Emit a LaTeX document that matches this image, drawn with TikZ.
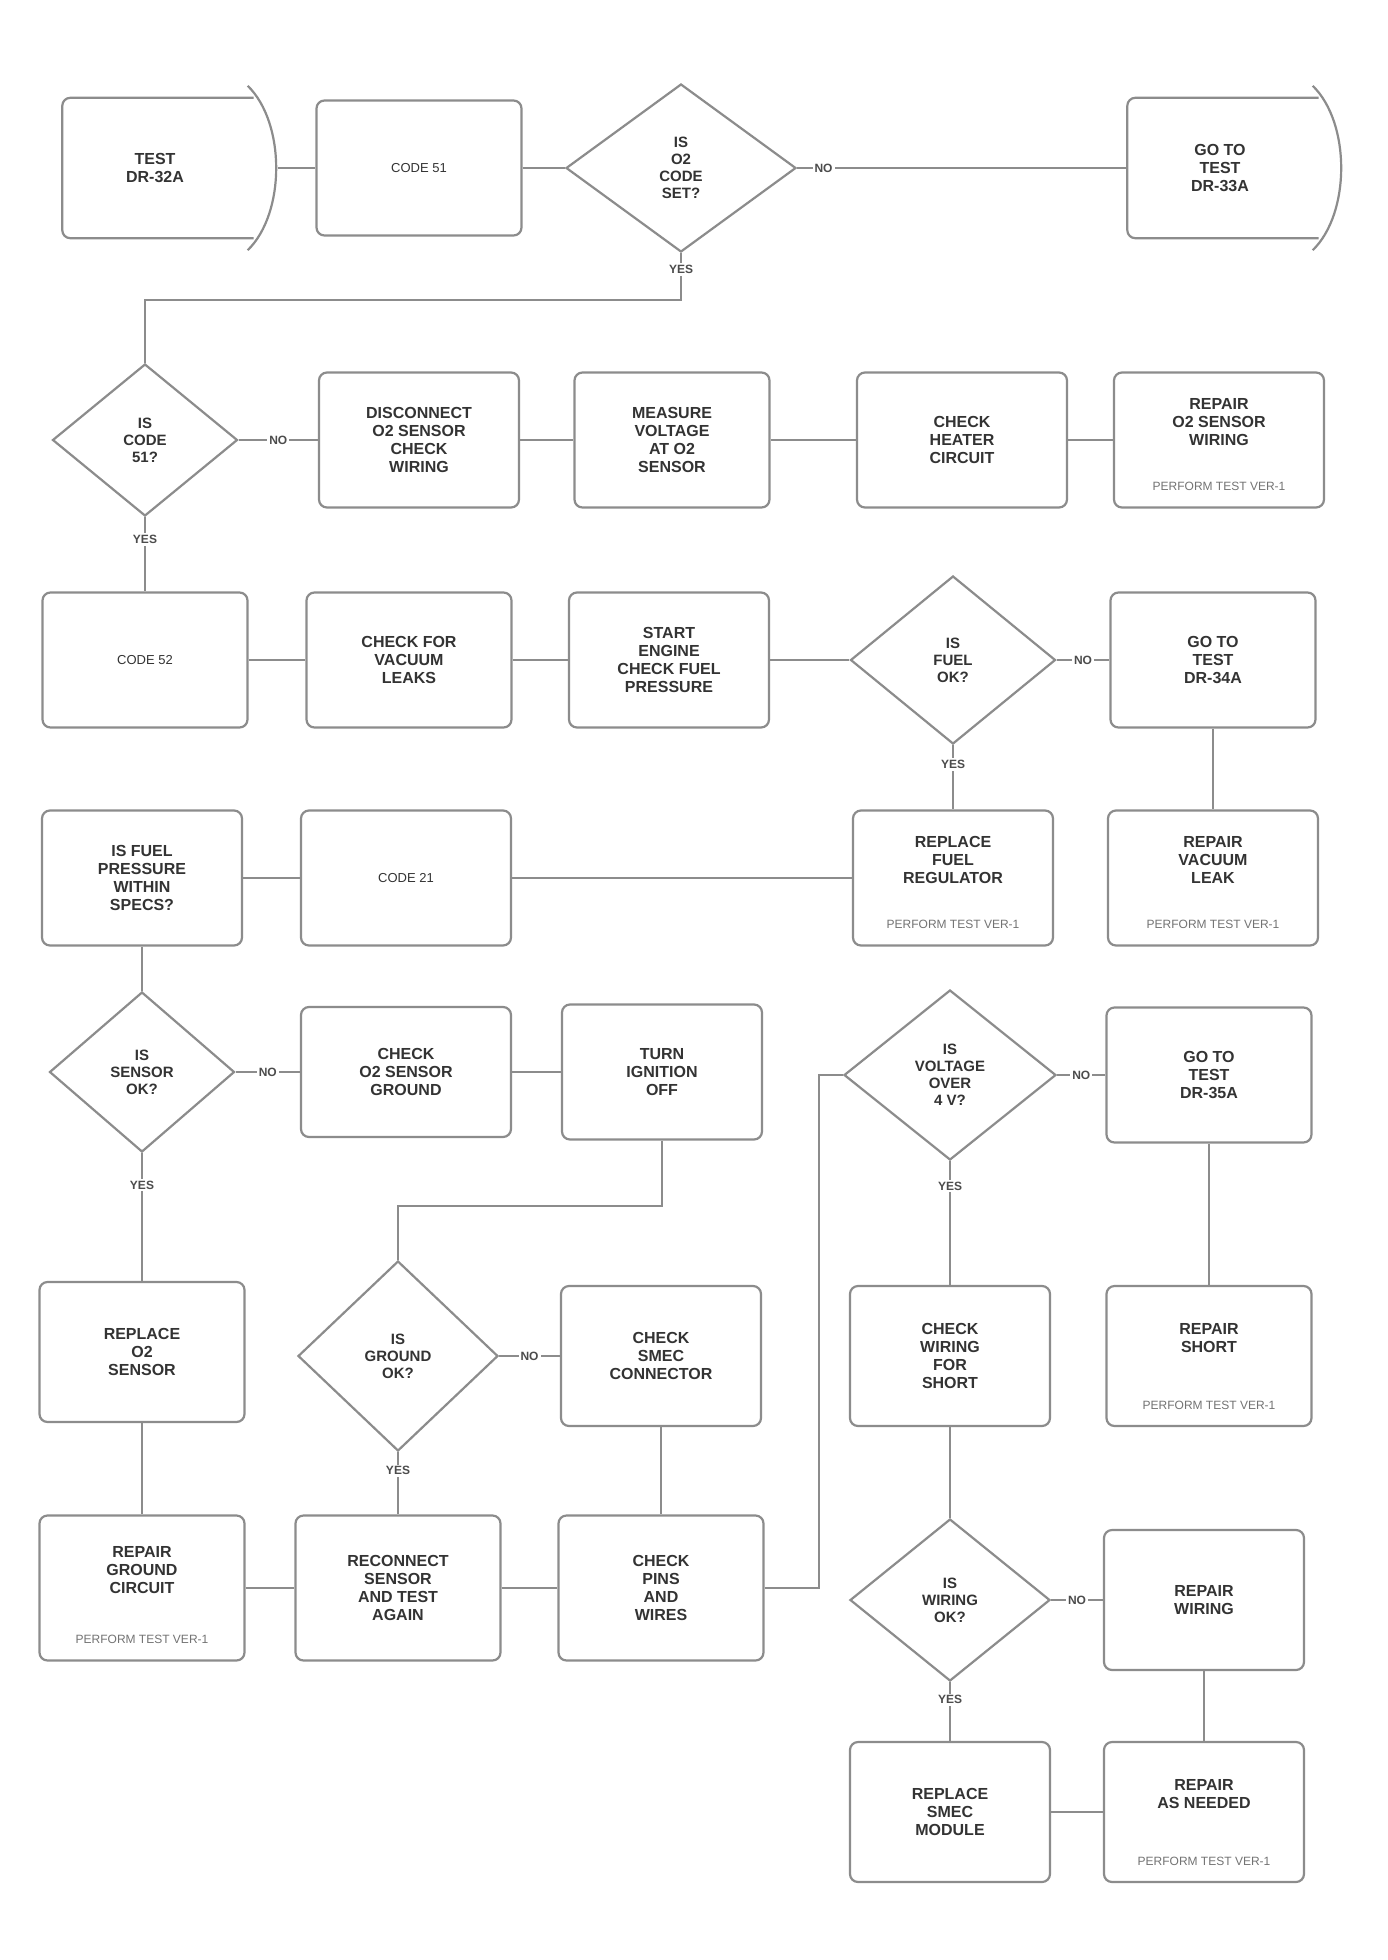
\documentclass[tikz,border=0pt]{standalone}
\usepackage{fontspec}
\setmainfont{Liberation Sans}
\usetikzlibrary{shapes.geometric,calc}
\begin{document}
\begin{tikzpicture}[x=1pt,y=-1pt,
  every node/.style={text=black!80},
  box/.style={draw=black!45, line width=2.2, rounded corners=8, minimum width=200, minimum height=135,
    align=center, font=\bfseries\fontsize{16}{18}\selectfont, inner sep=4},
  dia/.style={draw=black!45, line width=2.2, shape=diamond, inner sep=0, align=center,
    font=\bfseries\fontsize{15}{17}\selectfont},
  term/.style={minimum width=185, minimum height=140, align=center, font=\bfseries\fontsize{16}{18}\selectfont},
  thin/.style={font=\fontsize{13}{15}\selectfont},
  line/.style={draw=black!45, line width=2.2},
  lbl/.style={font=\bfseries\fontsize{12}{14}\selectfont, inner sep=2, fill=white, text=black!70},
  sub/.style={font=\fontsize{12}{14}\selectfont, text=black!55, anchor=south},
]
\fill[white] (0,0) rectangle (1387,1960);
\useasboundingbox (0,0) rectangle (1387,1960);

% ---------- row 1
\node[term] (A) at (155,168) {TEST\\DR-32A};
\draw[line, rounded corners=8] ($(A.north east)+(6,0)$) -- (A.north west) -- (A.south west) -- ($(A.south east)+(6,0)$);
\draw[line] ($(A.north east)+(0,-12)$) .. controls ($(A.north east)+(38,25)$) and ($(A.south east)+(38,-25)$) .. ($(A.south east)+(0,12)$);
\node[box, thin, minimum width=205] (B) at (419,168) {CODE 51};
\node[dia, minimum width=230, minimum height=168] (C) at (681,168) {IS\\O2\\CODE\\SET?};
\node[term] (D) at (1220,168) {GO TO\\TEST\\DR-33A};
\draw[line, rounded corners=8] ($(D.north east)+(6,0)$) -- (D.north west) -- (D.south west) -- ($(D.south east)+(6,0)$);
\draw[line] ($(D.north east)+(0,-12)$) .. controls ($(D.north east)+(38,25)$) and ($(D.south east)+(38,-25)$) .. ($(D.south east)+(0,12)$);

% ---------- row 2
\node[dia, minimum width=185, minimum height=152] (E) at (145,440) {IS\\CODE\\51?};
\node[box] (F) at (419,440) {DISCONNECT\\O2 SENSOR\\CHECK\\WIRING};
\node[box, minimum width=195] (G) at (672,440) {MEASURE\\VOLTAGE\\AT O2\\SENSOR};
\node[box, minimum width=210] (H) at (962,440) {CHECK\\HEATER\\CIRCUIT};
\node[box, minimum width=210] (I) at (1219,440) {REPAIR\\O2 SENSOR\\WIRING\\[18pt]};
\node[sub] at ($(I.south)+(0,-14)$) {PERFORM TEST VER-1};

% ---------- row 3
\node[box, thin, minimum width=205] (J) at (145,660) {CODE 52};
\node[box, minimum width=205] (K) at (409,660) {CHECK FOR\\VACUUM\\LEAKS};
\node[box] (L) at (669,660) {START\\ENGINE\\CHECK FUEL\\PRESSURE};
\node[dia, minimum width=205, minimum height=168] (M) at (953,660) {IS\\FUEL\\OK?};
\node[box, minimum width=205] (N) at (1213,660) {GO TO\\TEST\\DR-34A};

% ---------- row 4
\node[box] (R) at (142,878) {IS FUEL\\PRESSURE\\WITHIN\\SPECS?};
\node[box, thin, minimum width=210] (S) at (406,878) {CODE 21};
\node[box] (P) at (953,878) {REPLACE\\FUEL\\REGULATOR\\[18pt]};
\node[sub] at ($(P.south)+(0,-14)$) {PERFORM TEST VER-1};
\node[box, minimum width=210] (Q) at (1213,878) {REPAIR\\VACUUM\\LEAK\\[18pt]};
\node[sub] at ($(Q.south)+(0,-14)$) {PERFORM TEST VER-1};

% ---------- row 5
\node[dia, minimum width=185, minimum height=160] (T) at (142,1072) {IS\\SENSOR\\OK?};
\node[box, minimum width=210, minimum height=130] (U) at (406,1072) {CHECK\\O2 SENSOR\\GROUND};
\node[box] (V) at (662,1072) {TURN\\IGNITION\\OFF};
\node[dia, minimum width=212, minimum height=170] (W) at (950,1075) {IS\\VOLTAGE\\OVER\\4 V?};
\node[box, minimum width=205] (X) at (1209,1075) {GO TO\\TEST\\DR-35A};

% ---------- row 6
\node[box, minimum width=205, minimum height=140] (AB) at (142,1352) {REPLACE\\O2\\SENSOR};
\node[dia, minimum width=200, minimum height=190] (Y) at (398,1356) {IS\\GROUND\\OK?};
\node[box, minimum height=140] (AC) at (661,1356) {CHECK\\SMEC\\CONNECTOR};
\node[box, minimum height=140] (Z) at (950,1356) {CHECK\\WIRING\\FOR\\SHORT};
\node[box, minimum width=205, minimum height=140] (AA) at (1209,1356) {REPAIR\\SHORT\\[18pt]};
\node[sub] at ($(AA.south)+(0,-14)$) {PERFORM TEST VER-1};

% ---------- row 7
\node[box, minimum width=205, minimum height=145] (AE) at (142,1588) {REPAIR\\GROUND\\CIRCUIT\\[18pt]};
\node[sub] at ($(AE.south)+(0,-14)$) {PERFORM TEST VER-1};
\node[box, minimum width=205, minimum height=145] (AD) at (398,1588) {RECONNECT\\SENSOR\\AND TEST\\AGAIN};
\node[box, minimum width=205, minimum height=145] (AF) at (661,1588) {CHECK\\PINS\\AND\\WIRES};
\node[dia, minimum width=200, minimum height=162] (AG) at (950,1600) {IS\\WIRING\\OK?};
\node[box, minimum height=140] (AH) at (1204,1600) {REPAIR\\WIRING};

% ---------- row 8
\node[box, minimum height=140] (AI) at (950,1812) {REPLACE\\SMEC\\MODULE};
\node[box, minimum height=140] (AJ) at (1204,1812) {REPAIR\\AS NEEDED\\[18pt]};
\node[sub] at ($(AJ.south)+(0,-14)$) {PERFORM TEST VER-1};

% ---------- connectors
\draw[line] ($(A.east)+(30,0)$) -- (B.west);
\draw[line] (B) -- (C);
\draw[line] (C) -- node[lbl, pos=0.08] {NO} (D.west);
\coordinate (c1) at (681,300);
\coordinate (c2) at (145,300);
\draw[line] (C.south) -- node[lbl, pos=0.35] {YES} (c1) -- (c2) -- (E.north);

\draw[line] (E) -- node[lbl] {NO} (F);
\draw[line] (F) -- (G);
\draw[line] (G) -- (H);
\draw[line] (H) -- (I);
\draw[line] (E) -- node[lbl, pos=0.3] {YES} (J);

\draw[line] (J) -- (K);
\draw[line] (K) -- (L);
\draw[line] (L) -- (M.west);
\draw[line] (M.east) -- node[lbl] {NO} (N.west);
\draw[line] (M.south) -- node[lbl, pos=0.3] {YES} (P.north);
\draw[line] (N) -- (Q);

\draw[line] (R) -- (S);
\draw[line] (S) -- (P);
\draw[line] (R) -- (T);

\draw[line] (T) -- node[lbl] {NO} (U);
\draw[line] (U) -- (V);
\coordinate (v1) at (662,1206);
\coordinate (v2) at (398,1206);
\draw[line] (V.south) -- (v1) -- (v2) -- (Y.north);
\draw[line] (T.south) -- node[lbl, pos=0.25] {YES} (AB.north);
\draw[line] (W.east) -- node[lbl] {NO} (X.west);
\draw[line] (W.south) -- node[lbl, pos=0.2] {YES} (Z.north);
\draw[line] (X) -- (AA);

\draw[line] (Y.east) -- node[lbl] {NO} (AC.west);
\draw[line] (Y.south) -- node[lbl, pos=0.3] {YES} (AD.north);
\draw[line] (AB) -- (AE);
\draw[line] (AC) -- (AF);
\draw[line] (Z.south) -- (AG.north);

\draw[line] (AE) -- (AD);
\draw[line] (AD) -- (AF);
\coordinate (f1) at (819,1588);
\coordinate (f2) at (819,1075);
\draw[line] (AF.east) -- (f1) -- (f2) -- (W.west);
\draw[line] (AG.east) -- node[lbl] {NO} (AH.west);
\draw[line] (AG.south) -- node[lbl, pos=0.3] {YES} (AI.north);
\draw[line] (AH) -- (AJ);
\draw[line] (AI) -- (AJ);
\end{tikzpicture}
\end{document}
